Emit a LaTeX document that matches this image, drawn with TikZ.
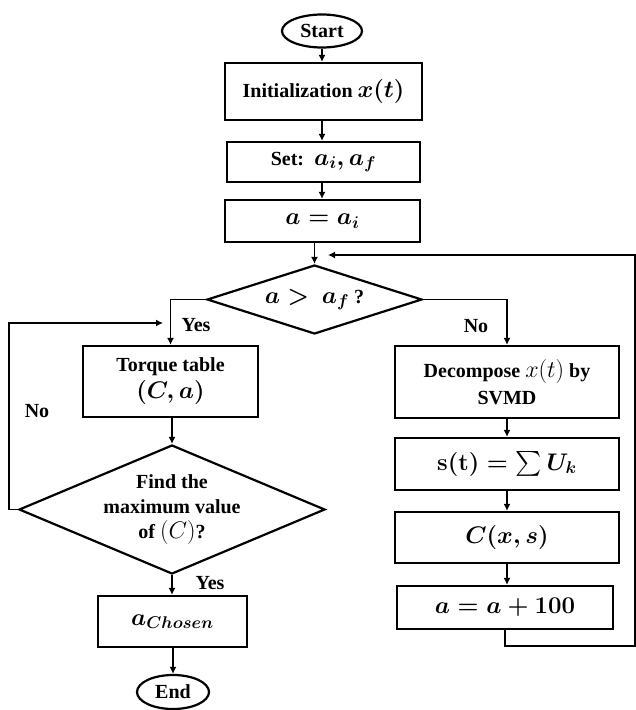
\RequirePackage{fix-cm}
\documentclass[tikz,border=0pt]{standalone}
\usepackage{amsmath}
\usepackage{fontspec}
\setmainfont{Liberation Serif}
\DeclareMathSizes{20}{24}{17}{13}
\usetikzlibrary{shapes.geometric,arrows.meta}

\tikzset{
  box/.style={draw, line width=2.2pt, rectangle, align=center, inner sep=0pt},
  term/.style={draw, line width=2.2pt, ellipse, inner sep=0pt},
  cond/.style={draw, line width=2.2pt, diamond, align=center, inner sep=0pt},
  arr/.style={line width=1.5pt, -{Latex[length=7pt,width=7pt]}}
}

\begin{document}
\begin{tikzpicture}[x=1pt, y=-1pt, font=\fontsize{20}{25}\selectfont\bfseries\boldmath]
    \useasboundingbox (0,0) rectangle (636,710); % same frame as the picture

    % main column
    \node[term, minimum width=80pt, minimum height=33pt] (start) at (322,31) {Start};
    \node[box, minimum width=197pt, minimum height=57pt] (init) at (323.5,91.5) {Initialization $x(t)$};
    \node[box, minimum width=193pt, minimum height=40pt] (setai) at (323.5,162) {Set:\ \ $a_i, a_f$};
    \node[box, minimum width=195pt, minimum height=42pt] (aeq) at (322.5,221) {$a = a_i$};
    \node[cond, aspect=3.1, minimum width=215pt, minimum height=69pt] (test) at (314.5,299.5) {$a >\ a_f$ ?};

    % left branch
    \node[box, minimum width=175pt, minimum height=71pt] (torque) at (170.5,381.5) {Torque table\\[2pt]$(C, a)$};
    \node[cond, aspect=2.37, minimum width=306pt, minimum height=129pt] (findmax) at (172,509.5) {Find the\\maximum value\\of {\unboldmath$(C)$}?};
    \node[box, minimum width=149pt, minimum height=51pt] (chosen) at (172.5,621.5) {$a_{Chosen}$};
    \node[term, minimum width=72pt, minimum height=34pt] (stop) at (173,692) {End};

    % right branch
    \node[box, minimum width=224pt, minimum height=72pt] (svmd) at (507,382) {Decompose {\unboldmath$x(t)$} by\\[2pt]SVMD};
    \node[box, minimum width=224pt, minimum height=52pt] (usum) at (507,464) {$\mathbf{s}(\mathbf{t}) = \textstyle\sum U_k$};
    \node[box, minimum width=224pt, minimum height=51pt] (cxs) at (507,537.5) {$C(x, s)$};
    \node[box, minimum width=216pt, minimum height=43pt] (incr) at (505,607.5) {$a = a + 100$};

    \node (yes1) at (196,325) {Yes};
    \node (no1) at (476,326) {No};
    \node (no2) at (37,411) {No};
    \node (yes2) at (210,583) {Yes};

    \coordinate (back) at (163,323);
    \coordinate (loop) at (328,255);

    \draw[arr] (start.south) -- (start.south |- init.north);
    \draw[arr] (init.south -| start.south) -- (start.south |- setai.north);
    \draw[arr] (setai.south -| start.south) -- (start.south |- aeq.north);
    \draw[arr] (aeq.south -| test.north) -- (test.north);
    \draw[arr] (test.west) -| (torque.north);
    \draw[arr] (test.east) -| (svmd.north);
    \draw[arr] (torque.south -| findmax.north) -- (findmax.north);
    \draw[arr] (findmax.west) -- ++(-9,0) |- (back);
    \draw[arr] (findmax.south) -- (findmax.south |- chosen.north);
    \draw[arr] (chosen.south -| stop.north) -- (stop.north);
    \draw[arr] (svmd.south) -- (usum.north);
    \draw[arr] (usum.south) -- (cxs.north);
    \draw[arr] (cxs.south) -- (cxs.south |- incr.north);
    \draw[arr] (incr.south) |- (635,646) |- (loop);
  \end{tikzpicture}
\end{document}
